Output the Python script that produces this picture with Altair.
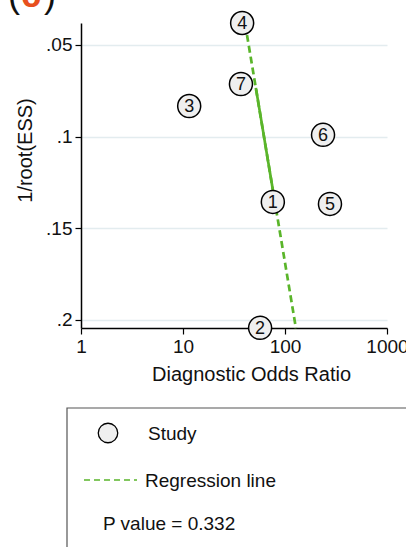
import altair as alt
import pandas as pd

# ---- data ----
study = ["1", "2", "3", "4", "5", "6", "7"]
dor = [76, 57, 11.5, 38, 276, 236, 37]
inv_root_ess = [0.1356, 0.2043, 0.0833, 0.038, 0.1367, 0.099, 0.0713]

reg_dor = [42.4, 128]
reg_y = [0.0445, 0.2045]
solid_dor = [51.8, 76]
solid_y = [0.0734, 0.129]

x_ticks = [1, 10, 100, 1000]
y_ticks = [0.05, 0.1, 0.15, 0.2]

paren_chars = ["(", ")"]
letter_char = ["c"]

FONT = "Liberation Sans"
GREEN = "#5ab52a"

W, H = 306, 305

pts = pd.DataFrame({"study": study, "dor": dor, "y": inv_root_ess})
reg = pd.DataFrame({"dor": reg_dor, "y": reg_y})
solid = pd.DataFrame({"dor": solid_dor, "y": solid_y})

xs = alt.Scale(type="log", domain=[1, 1000], nice=False)
ys = alt.Scale(domain=[0.038, 0.2044], reverse=True, nice=False, zero=False)

x_axis = alt.Axis(values=x_ticks, labelExpr="format(datum.value, 'd')", title="Diagnostic Odds Ratio",
                  grid=False, tickSize=6, tickColor="black", tickWidth=1.2,
                  domainColor="black", domainWidth=1.5, labelFont=FONT, labelFontSize=19,
                  labelColor="#111", labelPadding=3, labelFlush=False,
                  titleFont=FONT, titleFontSize=20, titleFontWeight="normal", titleColor="#111",
                  titleX=170, titleY=52, titleBaseline="alphabetic")
y_axis = alt.Axis(values=y_ticks, labelExpr="substring(format(datum.value, '.2~f'), 1)",
                  title="1/root(ESS)", grid=True, gridColor="#e3ecef", gridWidth=1.5,
                  tickSize=6, tickColor="black", tickWidth=1.2,
                  domainColor="black", domainWidth=1.5, labelFont=FONT, labelFontSize=19,
                  labelColor="#111", labelPadding=3,
                  titleFont=FONT, titleFontSize=20, titleFontWeight="normal", titleColor="#111",
                  titleX=-56, titleY=127, titleAngle=270, titleBaseline="middle", titleAlign="center")

line = alt.Chart(reg).mark_line(color=GREEN, strokeWidth=2.7, strokeDash=[7, 4]).encode(
    x=alt.X("dor:Q", scale=xs, axis=x_axis),
    y=alt.Y("y:Q", scale=ys, axis=y_axis),
)
solid_line = alt.Chart(solid).mark_line(color=GREEN, strokeWidth=2.7).encode(
    x=alt.X("dor:Q", scale=xs), y=alt.Y("y:Q", scale=ys))

circles = alt.Chart(pts).mark_circle(size=530, color="#efefef", opacity=1, stroke="black",
                                     strokeWidth=1.5).encode(
    x=alt.X("dor:Q", scale=xs), y=alt.Y("y:Q", scale=ys))
labels = alt.Chart(pts).mark_text(font=FONT, fontSize=18, color="#111", baseline="middle",
                                  align="center", dy=1).encode(
    x=alt.X("dor:Q", scale=xs), y=alt.Y("y:Q", scale=ys), text="study:N")

# panel label "(c)"
parens = pd.DataFrame({"ch": paren_chars, "px": [-67, -31]})
paren_txt = alt.Chart(parens).mark_text(font=FONT, fontSize=36, baseline="alphabetic",
                                        align="center", color="#111").encode(
    x=alt.X("px:Q", scale=None), y=alt.value(-16), text="ch:N")
letter = pd.DataFrame({"ch": letter_char, "px": [-50]})
letter_txt = alt.Chart(letter).mark_text(font=FONT, fontSize=36, fontWeight="bold",
                                         baseline="alphabetic", align="center",
                                         color="#e8501e").encode(
    x=alt.X("px:Q", scale=None), y=alt.value(-16), text="ch:N")

# legend box
one = pd.DataFrame({"k": [0]})
box = alt.Chart(one).mark_rect(fill="white", stroke="#555555", strokeWidth=1.2).encode(
    x=alt.value(-14), x2=alt.value(345), y=alt.value(385), y2=alt.value(560))
leg_circle = alt.Chart(one).mark_circle(size=380, color="#efefef", opacity=1, stroke="black",
                                        strokeWidth=1.3).encode(x=alt.value(27), y=alt.value(410))
leg_study = alt.Chart(one).mark_text(text="Study", font=FONT, fontSize=19, align="left",
                                     baseline="middle", color="#111").encode(
    x=alt.value(67), y=alt.value(411))
leg_line = alt.Chart(one).mark_rule(color=GREEN, strokeWidth=1.6, strokeDash=[6, 4]).encode(
    x=alt.value(3), x2=alt.value(56), y=alt.value(457))
leg_reg = alt.Chart(one).mark_text(text="Regression line", font=FONT, fontSize=19, align="left",
                                   baseline="middle", color="#111").encode(
    x=alt.value(64), y=alt.value(458))
leg_p = alt.Chart(one).mark_text(text="P value = 0.332", font=FONT, fontSize=19, align="left",
                                 baseline="middle", color="#111").encode(
    x=alt.value(22), y=alt.value(501))

chart = alt.layer(line, solid_line, circles, labels, paren_txt, letter_txt, box, leg_circle,
                  leg_study, leg_line, leg_reg, leg_p).properties(
    width=W, height=H,
    autosize=alt.AutoSizeParams(type="none"),
    padding={"left": 81, "top": 23, "right": 19, "bottom": 219},
    background="white",
).configure_view(strokeOpacity=0)

chart.save("out.html", embed_options={"renderer": "svg", "actions": False})
